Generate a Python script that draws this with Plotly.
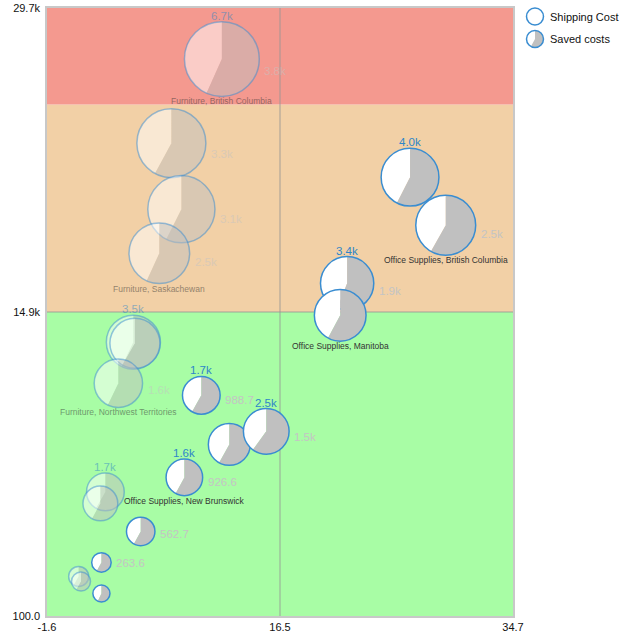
import math
import plotly.graph_objects as go

# ---- axes -------------------------------------------------------------
X_RANGE = [-1.6, 34.7]
Y_RANGE = [100.0, 29700.0]
x_tick_vals = [-1.6, 16.55, 34.7]
x_tick_text = ["-1.6", "16.5", "34.7"]
y_tick_vals = [100.0, 14900.0, 29700.0]
y_tick_text = ["100.0", "14.9k", "29.7k"]

# ---- background bands (value thresholds on y) -------------------------
band_edges = [100.0, 14900.0, 25000.0, 29700.0]
band_colors = ["#a8fda5", "#f2d0a6", "#f4998f"]

# ---- Furniture ---------------------------------------------------------
furn_x = [12.02, 8.09, 8.87, 7.15, 5.13, 5.25, 3.96, 2.95, 2.56, 0.87, 1.05]
furn_y = [27215, 23120, 19905, 17760, 13430, 13376, 11430, 6141, 5581, 2024, 1781]
furn_ship = [6700, 5700, 5400, 4400, 3500, 3000, 2800, 1700, 1450, 480, 430]
furn_saved = [3800, 3300, 3100, 2500, 2000, 1750, 1600, 990, 840, 280, 250]
furn_name = ["Furniture, British Columbia", "", "", "Furniture, Saskachewan", "", "",
             "Furniture, Northwest Territories", "", "", "", ""]
furn_show_top = [True, False, False, False, True, False, False, True, False, False, False]
furn_show_right = [True, True, True, True, False, False, True, False, False, False, False]

# ---- Office Supplies ---------------------------------------------------
off_x = [26.68, 29.46, 21.78, 21.24, 10.42, 12.60, 15.48, 9.10, 5.70, 2.64, 2.64]
off_y = [21464, 19125, 16299, 14740, 10843, 8455, 9089, 6848, 4217, 2707, 1196]
off_ship = [4000, 4300, 3400, 3200, 1700, 2100, 2500, 1600, 970, 455, 350]
off_saved = [2300, 2500, 1900, 1850, 988.7, 1220, 1500, 926.6, 562.7, 263.6, 200]
off_name = ["", "Office Supplies, British Columbia", "", "Office Supplies, Manitoba", "", "", "",
            "Office Supplies, New Brunswick", "", "", ""]
off_show_top = [True, False, True, False, True, False, True, True, False, False, False]
off_show_right = [False, True, True, False, True, False, True, True, True, True, False]

# ---- styling -----------------------------------------------------------
SIZE_PX = 14.45          # bubble radius in px for a shipping cost of 1k (area ~ value)
BLUE = "#3a8dd1"
TOP_TEXT = "#2e86c8"
RIGHT_TEXT = "#c4c4c4"
NAME_TEXT = "#333333"
SAVED_FILL = "#c0c0c0"
FONT = "Liberation Sans, Arial, sans-serif"


def fmt(v):
    return f"{v / 1000:.1f}k" if v >= 1000 else f"{v:.1f}"


def wedge_path(r, f0, f1):
    """Pie wedge in pixel units, clockwise from 12 o'clock (y axis up)."""
    a0, a1 = 2 * math.pi * f0, 2 * math.pi * f1
    steps = max(6, int(72 * (f1 - f0))) + 1
    parts = ["M0,0"]
    for i in range(steps + 1):
        a = a0 + (a1 - a0) * i / steps
        parts.append(f"L{r * math.sin(a):.2f},{r * math.cos(a):.2f}")
    parts.append("Z")
    return "".join(parts)


def pie_shapes(x, y, r, frac, opacity, xref="x", yref="y"):
    common = dict(xref=xref, yref=yref, xsizemode="pixel", ysizemode="pixel",
                  xanchor=x, yanchor=y, layer="above", opacity=opacity)
    out = []
    if frac < 1:
        out.append(dict(type="path", path=wedge_path(r, frac, 1), fillcolor="white",
                        line=dict(width=0), **common))
    if frac > 0:
        out.append(dict(type="path", path=wedge_path(r, 0, frac), fillcolor=SAVED_FILL,
                        line=dict(width=0), **common))
    out.append(dict(type="circle", x0=-r, x1=r, y0=-r, y1=r, fillcolor="rgba(0,0,0,0)",
                    line=dict(color=BLUE, width=1.5), **common))
    return out


shapes = []
annotations = []

# bands
for lo, hi, col in zip(band_edges[:-1], band_edges[1:], band_colors):
    shapes.append(dict(type="rect", xref="paper", yref="y", x0=0, x1=1, y0=lo, y1=hi,
                       fillcolor=col, line=dict(width=0), layer="below"))
# grid lines at the middle ticks
shapes.append(dict(type="line", xref="x", yref="paper", x0=x_tick_vals[1], x1=x_tick_vals[1],
                   y0=0, y1=1, line=dict(color="rgba(150,150,150,0.55)", width=1.5), layer="below"))
shapes.append(dict(type="line", xref="paper", yref="y", x0=0, x1=1, y0=y_tick_vals[1],
                   y1=y_tick_vals[1], line=dict(color="rgba(150,150,150,0.55)", width=1.5),
                   layer="below"))


def add_series(xs, ys, ship, saved, names, show_top, show_right, opacity):
    for x, y, s, sv, nm, st, sr in zip(xs, ys, ship, saved, names, show_top, show_right):
        r = SIZE_PX * math.sqrt(s / 1000.0)
        shapes.extend(pie_shapes(x, y, r, sv / s, opacity))
        if st:
            annotations.append(dict(x=x, y=y, xref="x", yref="y", text=fmt(s), showarrow=False,
                                    xanchor="center", yanchor="middle", yshift=r + 6,
                                    opacity=opacity,
                                    font=dict(family=FONT, size=11.5, color=TOP_TEXT)))
        if sr:
            annotations.append(dict(x=x, y=y, xref="x", yref="y", text=fmt(sv), showarrow=False,
                                    xanchor="left", yanchor="middle", xshift=r + 3,
                                    yshift=-0.4 * (r - 8), opacity=opacity,
                                    font=dict(family=FONT, size=11.5, color=RIGHT_TEXT)))
        if nm:
            annotations.append(dict(x=x, y=y, xref="x", yref="y", text=nm, showarrow=False,
                                    xanchor="center", yanchor="middle", yshift=-(r + 5),
                                    opacity=opacity,
                                    font=dict(family=FONT, size=8.5, color=NAME_TEXT)))


add_series(furn_x, furn_y, furn_ship, furn_saved, furn_name, furn_show_top, furn_show_right, 0.5)
add_series(off_x, off_y, off_ship, off_saved, off_name, off_show_top, off_show_right, 1.0)

# legend (drawn with the same pie glyphs)
legend_items = ["Shipping Cost", "Saved costs"]
legend_fracs = [0.0, 0.58]
legend_ypos = [0.986, 0.949]
for label, frac, ly in zip(legend_items, legend_fracs, legend_ypos):
    shapes.extend(pie_shapes(1.0472, ly, 8.5, frac, 1.0, xref="paper", yref="paper"))
    annotations.append(dict(x=1.0745, y=ly, xref="paper", yref="paper", text=label,
                            showarrow=False, xanchor="left", yanchor="middle",
                            font=dict(family=FONT, size=11, color="#111111")))

fig = go.Figure()
fig.add_trace(go.Scatter(
    x=furn_x + off_x, y=furn_y + off_y, mode="markers",
    marker=dict(size=1, opacity=0), hoverinfo="x+y", showlegend=False))

fig.update_layout(
    width=634, height=637,
    margin=dict(l=47, r=121, t=8, b=21, autoexpand=False),
    paper_bgcolor="white", plot_bgcolor="white",
    showlegend=False,
    shapes=shapes, annotations=annotations,
    font=dict(family=FONT, size=11, color="#111111"),
    xaxis=dict(range=X_RANGE, tickvals=x_tick_vals, ticktext=x_tick_text, showgrid=False,
               zeroline=False, showline=True, mirror=True, linecolor="#c8c8c8", linewidth=1.5,
               ticks="", automargin=False,
               tickfont=dict(family=FONT, size=11, color="#111111")),
    yaxis=dict(range=Y_RANGE, tickvals=y_tick_vals, ticktext=y_tick_text, showgrid=False,
               zeroline=False, showline=True, mirror=True, linecolor="#c8c8c8", linewidth=1.5,
               ticks="outside", ticklen=3, tickcolor="rgba(0,0,0,0)", automargin=False,
               tickfont=dict(family=FONT, size=11, color="#111111")),
)

fig.write_html("out.html")
